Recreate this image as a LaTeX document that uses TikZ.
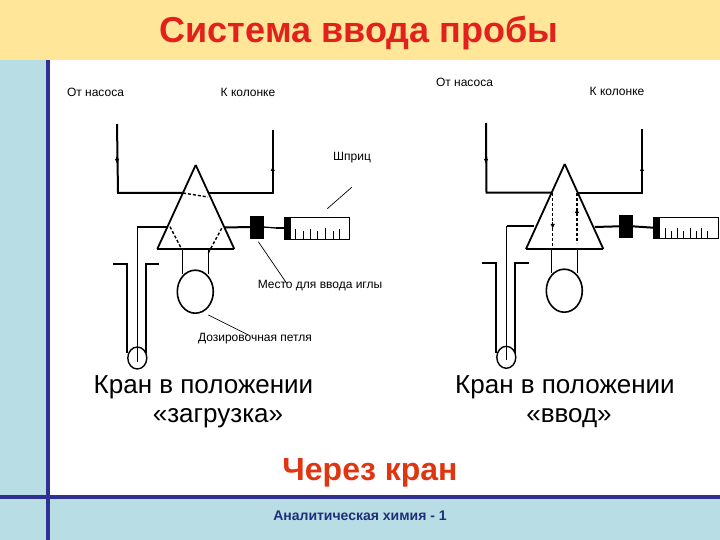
\documentclass[tikz,border=0pt]{standalone}
\usepackage{fontspec}
\setmainfont{Liberation Sans}
\usetikzlibrary{arrows.meta,shapes.geometric}
\definecolor{bandY}{HTML}{FFE699}
\definecolor{bandB}{HTML}{B9DDE5}
\definecolor{navy}{HTML}{2E3192}
\definecolor{titleRed}{HTML}{E2201C}
\definecolor{subRed}{HTML}{DF3510}
\definecolor{footNavy}{HTML}{1F2F7A}
\tikzset{
  thickpipe/.style={line width=2pt},
  thinpipe/.style={line width=1.3pt},
  hair/.style={line width=0.7pt},
  flow/.style={line width=1.4pt,densely dashed},
  tip/.style={-{Latex[length=5pt,width=4.5pt]},line width=1.2pt},
  loopshape/.style={draw,ellipse,line width=1.6pt,minimum width=36pt,minimum height=43pt,inner sep=0pt},
  bulb/.style={draw,ellipse,line width=1.4pt,minimum width=19pt,minimum height=22pt,inner sep=0pt},
  plug/.style={fill=black,draw=black,minimum width=12.5pt,minimum height=22pt,inner sep=0pt},
  lbl/.style={font=\fontsize{12}{14}\selectfont,inner sep=0pt,anchor=base},
  cap1/.style={font=\fontsize{26}{30}\selectfont,inner sep=0pt,anchor=base,text=black},
}
\begin{document}
\begin{tikzpicture}[x=1pt,y=-1pt]
\useasboundingbox (0,0) rectangle (720,540);
% background
\fill[white] (0,0) rectangle (720,540);
\fill[bandB] (0,60) rectangle (46,540);
\fill[bandB] (0,498) rectangle (720,540);
\fill[bandY] (0,0) rectangle (720,60);
\fill[navy] (46,60) rectangle (50,540);
\fill[navy] (0,495) rectangle (720,499);
% texts
\node[font=\bfseries\fontsize{36}{42}\selectfont,text=titleRed,inner sep=0pt,anchor=base] (title) at (359,43) {Система ввода пробы};
\node[lbl] (pumpL) at (95.5,97) {От насоса};
\node[lbl] (colL) at (248,97) {К колонке};
\node[lbl] (pumpR) at (464.5,87) {От насоса};
\node[lbl] (colR) at (617,96) {К колонке};
\node[lbl] (syr) at (352,161) {Шприц};
\node[lbl] (needle) at (320,288) {Место для ввода иглы};
\node[lbl] (doseloop) at (255,341) {Дозировочная петля};
\node[cap1] (capL1) at (203.5,393) {Кран в положении};
\node[cap1] (capL2) at (218,422) {«загрузка»};
\node[cap1] (capR1) at (565,393) {Кран в положении};
\node[cap1] (capR2) at (569,422) {«ввод»};
\node[font=\bfseries\fontsize{32}{38}\selectfont,text=subRed,inner sep=0pt,anchor=base] (through) at (370,480) {Через кран};
\node[font=\bfseries\fontsize{14}{16}\selectfont,text=footNavy,inner sep=0pt,anchor=base] (foot) at (360,520) {Аналитическая химия - 1};

% ===== left valve =====
\draw[line width=1.8pt] (195.7,165) -- (157.3,249);
\draw[line width=1.8pt] (195.7,165) -- (234.3,249);
\draw[line width=1.2pt] (157.3,249) -- (234.3,249);
\coordinate (LinA) at (117,124);
\coordinate (LinB) at (118,193);
\coordinate (LinC) at (183,193);
\coordinate (LinD) at (208,197);
\coordinate (LoutA) at (208,193);
\coordinate (LoutB) at (272.7,193);
\coordinate (LoutC) at (272.7,130);
\draw[thickpipe] (LinA) -- (LinB) -- (LinC);
\draw[flow] (LinC) -- (LinD);
\draw[thickpipe] (LoutA) -- (LoutB) -- (LoutC);
\draw[tip] (117,157) -- (117,164);
\draw[tip] (272.7,173) -- (272.7,166);
\draw[flow] (170,226.7) -- (181.7,249.3);
\draw[flow] (221.7,228.3) -- (208.3,253);
% sample line
\node[bulb] (bulbL) at (137.3,358) {};
\coordinate (LsA) at (168.3,226.7);
\coordinate (LsB) at (137.3,226.7);
\draw[thickpipe] (LsA) -- (LsB);
\draw[thinpipe] (LsB) -- (137.3,361.7);
% tube
\draw[thickpipe] (113.3,264) -- (126.7,264) -- (126.7,353);
\draw[thickpipe] (159.3,264) -- (146,264) -- (146,353);
% injector
\node[plug] (plugL) at (256.6,227) {};
\draw[thickpipe] (225,227.5) -- (plugL.west);
\draw[thinpipe] (plugL.east) -- (276,228);
\draw[thickpipe] (276,228.5) -- (284,228.5);
\node[draw,line width=0.7pt,minimum width=65.3pt,minimum height=22pt,inner sep=0pt] (syrL) at (317,228.3) {};
\fill[black] (284,217.3) rectangle (290.7,239.3);
\foreach \x/\h in {295/229,303/231,310/229,317/231,325/228,333/231,339/229}
  \draw[hair] (\x,\h) -- (\x,239);
% loop
\node[loopshape] (loopL) at (195.3,291.7) {};
\draw[thinpipe] (182.3,249) -- (182.3,274);
\draw[thinpipe] (208.3,249) -- (208.3,274);
% pointers
\coordinate (needleTip) at (286.7,283.3);
\draw[hair] (327.3,208.7) -- (351.7,187.3);
\draw[hair] (258.3,241.7) -- (needleTip);
\draw[hair] (208.3,315) -- (248.3,335);

% ===== right valve =====
\draw[line width=1.8pt] (564.7,164) -- (526,249);
\draw[line width=1.8pt] (564.7,164) -- (603.3,249);
\draw[line width=1.2pt] (526,249) -- (603.3,249);
\coordinate (RinA) at (486,123);
\coordinate (RinB) at (486.5,192.7);
\coordinate (RinC) at (551.7,192.7);
\coordinate (RoutA) at (578.3,192.7);
\coordinate (RoutB) at (642,192.7);
\coordinate (RoutC) at (642,129);
\draw[thickpipe] (RinA) -- (RinB) -- (RinC);
\draw[thickpipe] (RoutA) -- (RoutB) -- (RoutC);
\draw[tip] (486,157) -- (486,164);
\draw[tip] (642,173) -- (642,166);
\draw[flow] (552.7,193) -- (552.7,250);
\draw[flow] (577,193) -- (577,243);
\draw[tip] (552.7,222) -- (552.7,229);
\draw[tip] (577,215) -- (577,208);
% sample line
\node[bulb] (bulbR) at (506.3,357.3) {};
\coordinate (RsA) at (534,226);
\coordinate (RsB) at (506.7,226);
\draw[thickpipe] (RsA) -- (RsB);
\draw[thinpipe] (RsB) -- (506.7,360);
% tube
\draw[thickpipe] (482.3,262.7) -- (495.7,262.7) -- (495.7,353);
\draw[thickpipe] (528.7,262.7) -- (515.3,262.7) -- (515.3,353);
% injector
\node[plug] (plugR) at (625.7,226.3) {};
\draw[thickpipe] (595,227) -- (plugR.west);
\draw[thickpipe] (plugR.east) -- (653.3,227.7);
\node[draw,line width=0.7pt,minimum width=65pt,minimum height=21.4pt,inner sep=0pt] (syrR) at (685.8,228) {};
\fill[black] (653.3,217.3) rectangle (660,238.7);
\foreach \x/\h in {665/228,671.7/231,677.3/228,683.3/231,690/228,696/231,701.7/228,707.7/231}
  \draw[hair] (\x,\h) -- (\x,238);
% loop
\node[loopshape] (loopR) at (564.3,290.7) {};
\draw[thinpipe] (551.3,249) -- (551.3,273);
\draw[thinpipe] (577.3,249) -- (577.3,273);
\end{tikzpicture}
\end{document}
